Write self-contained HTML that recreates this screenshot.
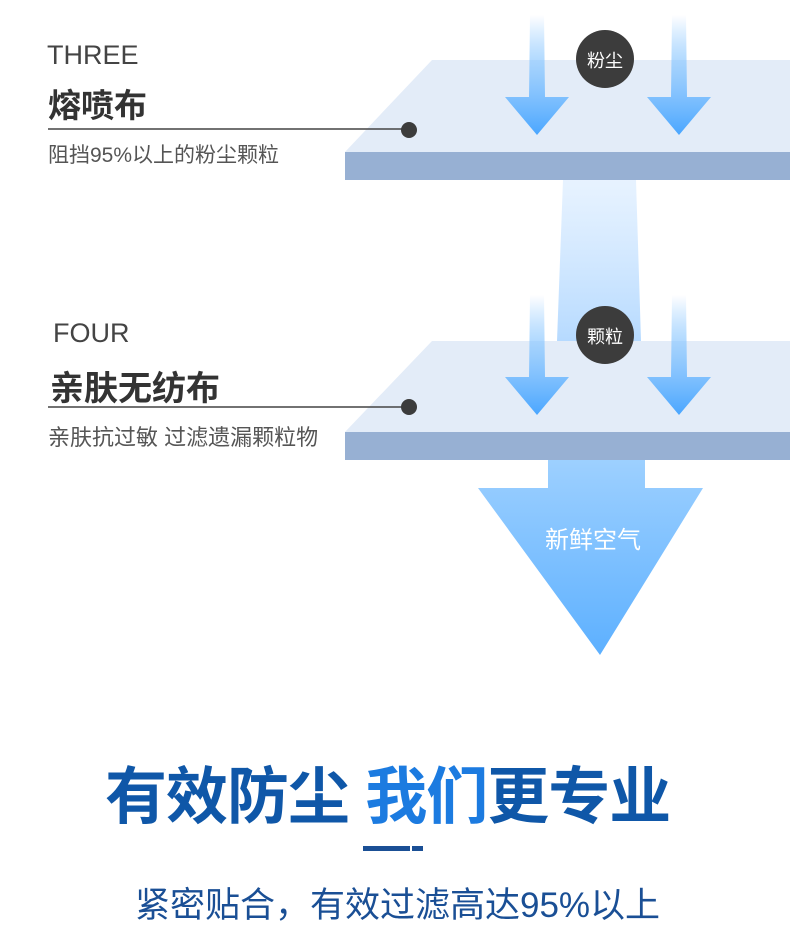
<!DOCTYPE html>
<html><head><meta charset="utf-8"><style>
html,body{margin:0;padding:0;background:#fff;}
body{width:790px;height:945px;position:relative;overflow:hidden;font-family:"Liberation Sans","Noto Sans CJK SC",sans-serif;}
.t{position:absolute;white-space:nowrap;}
</style></head><body>
<svg width="790" height="945" style="position:absolute;left:0;top:0">
<defs>
<linearGradient id="ar" x1="0" y1="0" x2="0" y2="1">
<stop offset="0" stop-color="#6db8ff" stop-opacity="0"/>
<stop offset="0.4" stop-color="#8cc8ff" stop-opacity="0.7"/>
<stop offset="1" stop-color="#4aa6ff"/>
</linearGradient>
<linearGradient id="col" x1="0" y1="0" x2="0" y2="1">
<stop offset="0" stop-color="#cfe6ff" stop-opacity="0.5"/>
<stop offset="1" stop-color="#b6daff"/>
</linearGradient>
<linearGradient id="big" x1="0" y1="0" x2="0" y2="1">
<stop offset="0" stop-color="#9dd0ff"/>
<stop offset="1" stop-color="#5db0ff"/>
</linearGradient>
<g id="sa"><polygon points="-7,0 7,0 8,82 32,82 0,120 -32,82 -8,82" fill="url(#ar)"/></g>
</defs>
<polygon points="563,180 636,180 641,341 557,341" fill="url(#col)"/>
<polygon points="432,60 790,60 790,152 345,152" fill="#e3ecf8"/>
<rect x="345" y="152" width="445" height="28" fill="#97b0d3"/>
<use href="#sa" x="537" y="15"/>
<use href="#sa" x="679" y="15"/>
<polygon points="432,341 790,341 790,432 345,432" fill="#e3ecf8"/>
<rect x="345" y="432" width="445" height="28" fill="#97b0d3"/>
<use href="#sa" x="537" y="295"/>
<use href="#sa" x="679" y="295"/>
<polygon points="548,460 645,460 645,488 703,488 600,655 478,488 548,488" fill="url(#big)"/>
<circle cx="605" cy="59" r="29" fill="#3c3c3c"/>
<circle cx="605" cy="335" r="29" fill="#3c3c3c"/>
<line x1="48" y1="129" x2="408" y2="129" stroke="#444" stroke-width="1.5"/>
<circle cx="409" cy="130" r="8" fill="#3c3c3c"/>
<line x1="48" y1="407" x2="408" y2="407" stroke="#444" stroke-width="1.5"/>
<circle cx="409" cy="407" r="8" fill="#3c3c3c"/>
<rect x="363" y="846" width="47" height="5" fill="#1a4f95"/>
<rect x="412" y="846" width="11" height="5" fill="#1a4f95"/>
</svg>
<div class="t" style="left:587px;top:47px;font-size:18px;color:#fff">粉尘</div>
<div class="t" style="left:587px;top:323px;font-size:18px;color:#fff">颗粒</div>
<div class="t" style="left:545px;top:520px;font-size:24px;color:#fff">新鲜空气</div>
<div class="t" style="left:47px;top:40px;font-size:27px;color:#444">THREE</div>
<div class="t" style="left:48px;top:79px;font-size:33px;font-weight:bold;color:#333">熔喷布</div>
<div class="t" style="left:48px;top:139px;font-size:21px;color:#555">阻挡95%以上的粉尘颗粒</div>
<div class="t" style="left:53px;top:318px;font-size:27px;color:#444">FOUR</div>
<div class="t" style="left:50px;top:361px;font-size:34px;font-weight:bold;color:#333">亲肤无纺布</div>
<div class="t" style="left:48px;top:420px;font-size:22px;color:#555">亲肤抗过敏 过滤遗漏颗粒物</div>
<div class="t" style="left:105px;top:746px;font-size:62px;font-weight:bold;color:#0f57a8;letter-spacing:-1px">有效防尘 <span style="color:#1c7be0">我们</span><span>更专业</span></div>
<div class="t" style="left:135px;top:877px;font-size:35px;color:#1a4f95">紧密贴合，有效过滤高达95%以上</div>
</body></html>
